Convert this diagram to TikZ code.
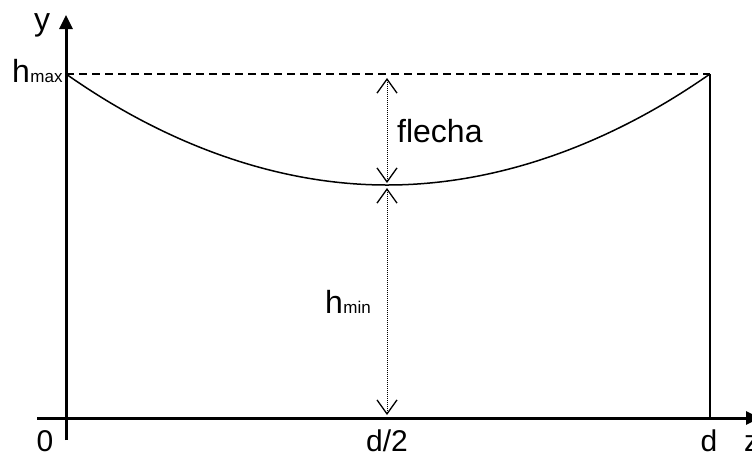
\documentclass[tikz,border=0pt]{standalone}
\usepackage{fontspec}
\setmainfont{Liberation Sans}
\usepackage{tikz}
\usetikzlibrary{arrows.meta, positioning}

\begin{document}
\begin{tikzpicture}[
    x=1pt, y=-1pt,
    every node/.style={font=\fontsize{32}{36}\selectfont, inner sep=0pt},
    sub/.style={font=\fontsize{17}{19}\selectfont, inner sep=0pt},
    tick/.style={font=\fontsize{30}{34}\selectfont, inner sep=0pt},
    axis/.style={-{Triangle[length=14pt, width=13pt]}, line width=3pt},
    cable/.style={line width=1.5pt},
    wall/.style={line width=2pt},
    level/.style={line width=1.3pt, dash pattern=on 8pt off 5pt},
    dimarrow/.style={{Straight Barb[length=14pt, width=20pt, line width=1.3pt]}-{Straight Barb[length=14pt, width=20pt, line width=1.3pt]}, line width=0.9pt, dash pattern=on 1pt off 1pt}
]
    \useasboundingbox (0,0) rectangle (752,459);

    % points
    \coordinate (ybot) at (66,440);
    \coordinate (ytip) at (66,15);
    \coordinate (xleft) at (37,418);
    \coordinate (xtip) at (760,418);
    \coordinate (hmax) at (66,74);
    \coordinate (top) at (710,74);
    \coordinate (foot) at (710,418);
    \coordinate (low) at (387,185);
    \coordinate (mid) at (387,418);
    \coordinate (fl-up) at (387,78);
    \coordinate (fl-down) at (387,183);
    \coordinate (hm-up) at (387,188);
    \coordinate (hm-down) at (387,415);

    % axes
    \draw [axis] (ybot) -- (ytip);
    \draw [axis] (xleft) -- (xtip);

    % cable and support
    \draw [level] (hmax) -- (top);
    \draw [wall] (top) -- (foot);
    \draw [cable] (hmax) parabola bend (low) (top);

    % dimensions
    \draw [dimarrow] (fl-up) -- (fl-down);
    \draw [dimarrow] (hm-up) -- (hm-down);

    % labels
    \node (ylab) [anchor=base] at (42,30) {y};
    \node (zlab) [tick, anchor=base west] at (744,451) {z};
    \node (hlab) [anchor=base west] at (12,82) {h};
    \node (hmaxsub) [sub, anchor=base west] at (hlab.base east) {max};
    \node (flecha) [anchor=base west] at (397,142) {flecha};
    \node (hmlab) [anchor=base west] at (325,313) {h};
    \node (hminsub) [sub, anchor=base west] at (hmlab.base east) {min};
    \node (zero) [tick, anchor=base] at (45,451) {0};
    \node (half) [tick, anchor=base] at (387,451) {d/2};
    \node (dlab) [tick, anchor=base] at (709,451) {d};
\end{tikzpicture}
\end{document}
